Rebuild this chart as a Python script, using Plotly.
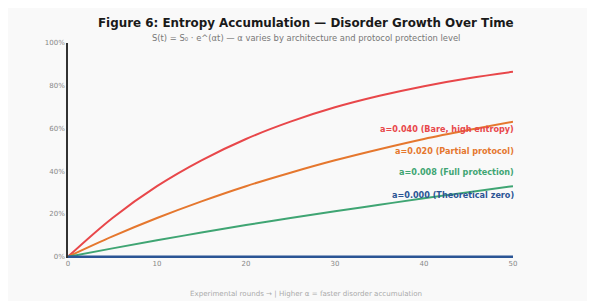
import plotly.graph_objects as go

rounds = [0, 5, 10, 15, 20, 25, 30, 35, 40, 45, 50]
bare = [0, 0.181, 0.330, 0.451, 0.551, 0.632, 0.699, 0.753, 0.798, 0.835, 0.865]
partial = [0, 0.095, 0.181, 0.259, 0.330, 0.393, 0.451, 0.503, 0.551, 0.593, 0.632]
full = [0, 0.039, 0.077, 0.113, 0.148, 0.181, 0.213, 0.243, 0.274, 0.302, 0.330]
theoretical = [0] * 11

series_names = ["a=0.040 (Bare, high entropy)", "a=0.020 (Partial protocol)",
                "a=0.008 (Full protection)", "a=0.000 (Theoretical zero)"]
series_values = [bare, partial, full, theoretical]
line_colors = ["#e8474a", "#e5772e", "#3fa573", "#2b5595"]
label_y = [0.599, 0.495, 0.395, 0.288]
line_widths = [2, 2, 2, 2.5]

fig = go.Figure()
for name, vals, col, w in zip(series_names, series_values, line_colors, line_widths):
    fig.add_trace(go.Scatter(x=rounds, y=vals, mode="lines", name=name,
                             line=dict(color=col, width=w, shape="spline"),
                             showlegend=False, hoverinfo="skip"))

for name, col, yy in zip(series_names, line_colors, label_y):
    fig.add_annotation(x=1, xref="paper", y=yy, yref="y", xanchor="right", yanchor="middle",
                       xshift=3, text=f"<b>{name}</b>", showarrow=False,
                       font=dict(family="DejaVu Sans", size=8.1, color=col))

fig.add_annotation(x=0.535, xref="paper", y=1.093, yref="paper", xanchor="center", yanchor="middle",
                   text="<b>Figure 6: Entropy Accumulation — Disorder Growth Over Time</b>",
                   showarrow=False, font=dict(family="DejaVu Sans", size=11.9, color="#1a1a1a"))
fig.add_annotation(x=0.535, xref="paper", y=1.025, yref="paper", xanchor="center", yanchor="middle",
                   text="S(t) = S₀ · e^(αt) — α varies by architecture and protocol protection level",
                   showarrow=False, font=dict(family="DejaVu Sans", size=8.4, color="#777777"))
fig.add_annotation(x=0.535, xref="paper", y=-0.163, yref="paper", xanchor="center", yanchor="middle",
                   text="Experimental rounds → | Higher α = faster disorder accumulation",
                   showarrow=False, font=dict(family="DejaVu Sans", size=7.1, color="#aaaaaa"))

fig.update_xaxes(range=[0, 50], tickvals=[0, 10, 20, 30, 40, 50], showgrid=False, zeroline=False,
                 showline=False, ticks="", tickfont=dict(family="DejaVu Sans", size=7, color="#888888"))
fig.update_yaxes(range=[-0.006, 1.0], tickvals=[0, 0.2, 0.4, 0.6, 0.8, 1.0],
                 ticktext=["0%", "20%", "40%", "60%", "80%", "100%"], showgrid=False, zeroline=False,
                 showline=True, linecolor="#333333", linewidth=1.5, ticks="",
                 tickfont=dict(family="DejaVu Sans", size=7, color="#888888"))

fig.update_layout(width=579, height=293, margin=dict(l=60, r=74, t=35, b=43),
                  paper_bgcolor="#f9f9f9", plot_bgcolor="#f9f9f9")

fig.write_html("out.html")
